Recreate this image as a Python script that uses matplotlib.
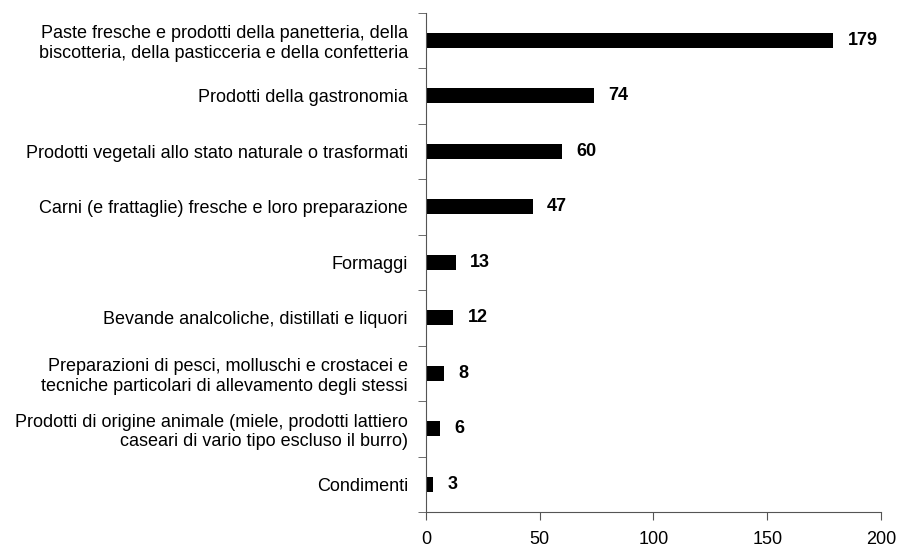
import matplotlib.pyplot as plt
import numpy as np

plt.rcParams['font.family'] = ['Liberation Sans', 'DejaVu Sans']

categories = ['Paste fresche e prodotti della panetteria, della\nbiscotteria, della pasticceria e della confetteria',
              'Prodotti della gastronomia',
              'Prodotti vegetali allo stato naturale o trasformati',
              'Carni (e frattaglie) fresche e loro preparazione',
              'Formaggi',
              'Bevande analcoliche, distillati e liquori',
              'Preparazioni di pesci, molluschi e crostacei e\ntecniche particolari di allevamento degli stessi',
              'Prodotti di origine animale (miele, prodotti lattiero\ncaseari di vario tipo escluso il burro)',
              'Condimenti']
values = [179, 74, 60, 47, 13, 12, 8, 6, 3]

fig = plt.figure(figsize=(8.98, 5.47), dpi=100)
ax = fig.add_axes([0.4744, 0.064, 0.981 - 0.4744, 0.977 - 0.064])

y = np.arange(len(categories))
ax.barh(y, values, height=0.27, color='black')
for yi, v in zip(y, values):
    ax.text(v + 6.3, yi, str(v), va='center', ha='left', fontsize=13, fontweight='bold')

ax.set_xlim(0, 200)
ax.set_ylim(len(categories) - 0.5, -0.5)
ax.set_xticks([0, 50, 100, 150, 200])
ax.set_yticks(y)
ax.set_yticklabels(categories, fontsize=13, linespacing=1.2)
ax.set_yticks(np.arange(-0.5, len(categories), 1), minor=True)
ax.tick_params(axis='y', which='major', length=0, pad=13)
ax.tick_params(axis='y', which='minor', length=6, color='#555555', direction='out')
ax.tick_params(axis='x', labelsize=13, length=6, color='#555555', pad=8)
for s in ['top', 'right']:
    ax.spines[s].set_visible(False)
for s in ['left', 'bottom']:
    ax.spines[s].set_color('#555555')

fig.savefig('out.png', dpi=100)
